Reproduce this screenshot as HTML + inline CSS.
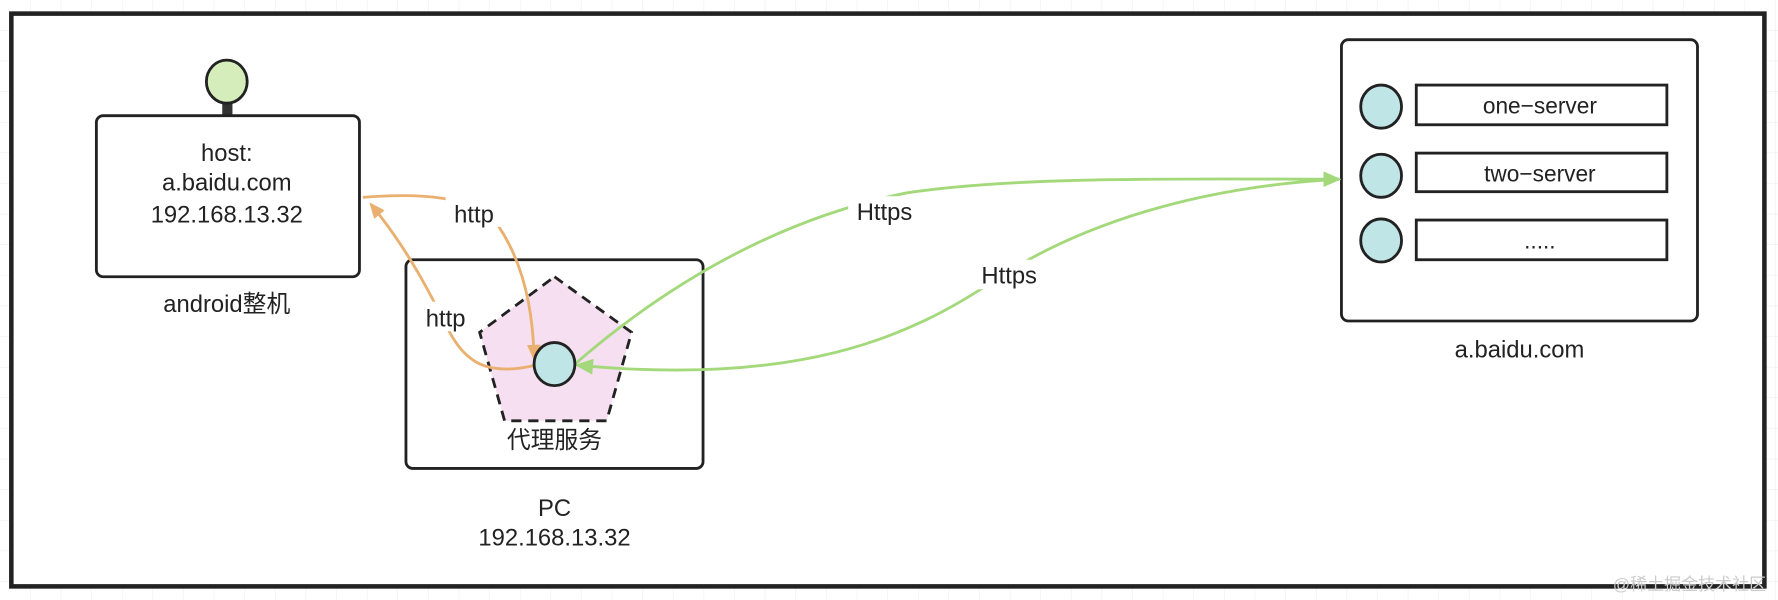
<!DOCTYPE html>
<html><head><meta charset="utf-8"><style>
html,body{margin:0;padding:0;background:#fff}
svg{display:block}
text{font-family:"Liberation Sans","Noto Sans CJK SC",sans-serif;fill:#222;text-anchor:middle}
</style></head><body>
<svg width="1778" height="600" viewBox="0 0 1568 529" preserveAspectRatio="none" xmlns="http://www.w3.org/2000/svg">
<defs>
<pattern id="g" width="27" height="27" patternUnits="userSpaceOnUse"><path d="M27 0V27H0" fill="none" stroke="#eee" stroke-width="1"/></pattern>
<marker id="ao" markerWidth="14" markerHeight="14" refX="12" refY="7" orient="auto" markerUnits="userSpaceOnUse" viewBox="0 0 14 14"><path d="M0,1L14,7L0,13z" fill="#e9b06f"/></marker>
<marker id="ag" markerWidth="16" markerHeight="16" refX="14" refY="8" orient="auto" markerUnits="userSpaceOnUse" viewBox="0 0 16 16"><path d="M0,1L16,8L0,15z" fill="#a3d97a"/></marker>
</defs>
<rect width="1568" height="529" fill="url(#g)"/>
<rect x="10" y="12" width="1546" height="505" fill="#fff" stroke="#222" stroke-width="4"/>
<rect x="196" y="89" width="9" height="13" fill="#333"/>
<ellipse cx="200" cy="72" rx="18" ry="19" fill="#d5edbb" stroke="#222" stroke-width="2.5"/>
<rect x="85" y="102" width="232" height="142" rx="6" fill="#fff" stroke="#222" stroke-width="2.5"/>
<text x="200" y="142" font-size="21">host:</text>
<text x="200" y="168" font-size="21">a.baidu.com</text>
<text x="200" y="196" font-size="21">192.168.13.32</text>
<text x="200" y="275" font-size="21">android整机</text>
<rect x="358" y="229" width="262" height="184" rx="6" fill="#fff" stroke="#222" stroke-width="2.5"/>
<path d="M489,244 L557,293 L535,371 L445,371 L423,293 Z" fill="#f5dff0" stroke="#222" stroke-width="2.5" stroke-dasharray="9,6"/>
<text x="489" y="395" font-size="21">代理服务</text>
<text x="489" y="455" font-size="21">PC</text>
<text x="489" y="481" font-size="21">192.168.13.32</text>
<rect x="1183" y="35" width="314" height="248" rx="6" fill="#fff" stroke="#222" stroke-width="2.5"/>
<ellipse cx="1218" cy="94" rx="18" ry="19" fill="#bfe5e6" stroke="#222" stroke-width="2.5"/>
<ellipse cx="1218" cy="155" rx="18" ry="19" fill="#bfe5e6" stroke="#222" stroke-width="2.5"/>
<ellipse cx="1218" cy="212" rx="18" ry="19" fill="#bfe5e6" stroke="#222" stroke-width="2.5"/>
<rect x="1249" y="75" width="221" height="35" fill="#fff" stroke="#222" stroke-width="2.5"/>
<rect x="1249" y="135" width="221" height="34" fill="#fff" stroke="#222" stroke-width="2.5"/>
<rect x="1249" y="194" width="221" height="35" fill="#fff" stroke="#222" stroke-width="2.5"/>
<text x="1358" y="100" font-size="20">one−server</text>
<text x="1358" y="160" font-size="20">two−server</text>
<text x="1358" y="219" font-size="20">.....</text>
<text x="1340" y="315" font-size="21">a.baidu.com</text>
<path d="M472,322 C430,332 410,320 395,290 C380,260 360,220 327,180" fill="none" stroke="#e9b06f" stroke-width="2.5" marker-end="url(#ao)"/>
<path d="M320,174 C370,170 420,172 440,200 C460,230 470,270 471,316" fill="none" stroke="#e9b06f" stroke-width="2.5" marker-end="url(#ao)"/>
<path d="M507,321 C600,240 700,190 800,170 C900,155 1050,158 1181,158" fill="none" stroke="#a3d97a" stroke-width="2.5" marker-end="url(#ag)"/>
<path d="M1181,158 C1050,165 950,200 880,245 C800,300 700,340 509,322" fill="none" stroke="#a3d97a" stroke-width="2.5" marker-end="url(#ag)"/>
<ellipse cx="489" cy="321" rx="18" ry="19" fill="#bfe5e6" stroke="#222" stroke-width="2.5"/>
<rect x="393" y="174" width="50" height="26" fill="#fff"/>
<text x="418" y="196" font-size="21">http</text>
<rect x="368" y="266" width="50" height="26" fill="#fff"/>
<text x="393" y="288" font-size="21">http</text>
<rect x="748" y="173" width="64" height="26" fill="#fff"/>
<text x="780" y="194" font-size="21">Https</text>
<rect x="858" y="229" width="64" height="26" fill="#fff"/>
<text x="890" y="250" font-size="21">Https</text>
<text x="1490" y="520" font-size="15" style="fill:#ccc">@稀土掘金技术社区</text>
</svg>
</body></html>
